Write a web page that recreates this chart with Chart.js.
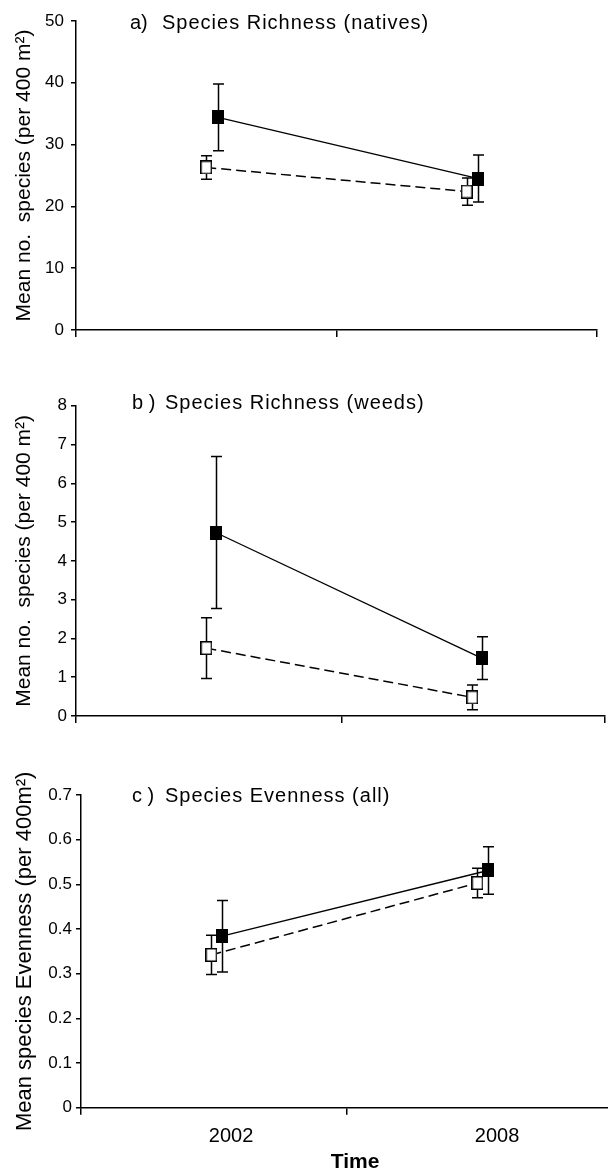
<!DOCTYPE html>
<html>
<head>
<meta charset="utf-8">
<script src="https://cdn.jsdelivr.net/npm/chart.js@4.4.1/dist/chart.umd.min.js"></script>
<style>
  html, body { margin: 0; padding: 0; background: #fff; overflow: hidden; }
  .panel { position: absolute; left: 0; width: 608px; }
</style>
</head>
<body>
<div class="panel" style="top:0px;height:360px"><canvas id="chartA" width="608" height="360"></canvas></div>
<div class="panel" style="top:365px;height:370px"><canvas id="chartB" width="608" height="370"></canvas></div>
<div class="panel" style="top:740px;height:431px"><canvas id="chartC" width="608" height="431"></canvas></div>
<script>
// data
const categories = ["2002", "2008"];

// a) species richness, natives
const nativesFilled = [34.4, 24.5];
const nativesFilledErr = [5.4, 3.8];
const nativesOpen = [26.3, 22.4];
const nativesOpenErr = [1.9, 2.2];
const nativesTicks = [0, 10, 20, 30, 40, 50];

// b) species richness, weeds
const weedsFilled = [4.73, 1.49];
const weedsFilledErr = [1.96, 0.55];
const weedsOpen = [1.75, 0.48];
const weedsOpenErr = [0.78, 0.32];
const weedsTicks = [0, 1, 2, 3, 4, 5, 6, 7, 8];

// c) species evenness, all
const evenFilled = [0.384, 0.531];
const evenFilledErr = [0.08, 0.053];
const evenOpen = [0.342, 0.503];
const evenOpenErr = [0.044, 0.033];
const evenTicks = [0, 0.1, 0.2, 0.3, 0.4, 0.5, 0.6, 0.7];

Chart.defaults.font.family = "'Liberation Sans', Arial, sans-serif";
Chart.defaults.color = "#000";
Chart.defaults.animation = false;

// rectangular markers (slightly taller than wide, like the original)
function markerImage(filled) {
  const c = document.createElement("canvas");
  c.width = 12; c.height = 14;
  const g = c.getContext("2d");
  g.fillStyle = filled ? "#000" : "#fff";
  g.fillRect(0.75, 0.75, 10.5, 12.5);
  g.strokeStyle = "#000";
  g.lineWidth = 1.5;
  g.strokeRect(0.75, 0.75, 10.5, 12.5);
  return c;
}
const filledMarker = markerImage(true);
const openMarker = markerImage(false);

// vertical error bars with caps, drawn under the lines/markers
const errorBars = {
  id: "errorBars",
  beforeDatasetsDraw(chart) {
    const { ctx, scales: { x, y } } = chart;
    const cap = 5.5;
    ctx.save();
    ctx.strokeStyle = "#000";
    ctx.lineWidth = 1.5;
    chart.data.datasets.forEach(ds => {
      if (!ds.errors) return;
      ds.data.forEach((pt, j) => {
        const e = ds.errors[j];
        const px = Math.round(x.getPixelForValue(pt.x)) + 0.5;
        const top = y.getPixelForValue(pt.y + e);
        const bot = y.getPixelForValue(pt.y - e);
        ctx.beginPath();
        ctx.moveTo(px, top); ctx.lineTo(px, bot);
        ctx.moveTo(px - cap, top); ctx.lineTo(px + cap, top);
        ctx.moveTo(px - cap, bot); ctx.lineTo(px + cap, bot);
        ctx.stroke();
      });
    });
    ctx.restore();
  }
};

// free text: panel captions and the "Time" label
const panelText = {
  id: "panelText",
  afterDraw(chart, args, opts) {
    const { ctx } = chart;
    (opts.items || []).forEach(it => {
      ctx.save();
      ctx.font = it.font;
      ctx.fillStyle = "#000";
      ctx.textBaseline = "middle";
      ctx.textAlign = it.align || "left";
      if ("letterSpacing" in ctx) ctx.letterSpacing = it.spacing || "0px";
      ctx.fillText(it.text, it.x, it.y);
      ctx.restore();
    });
  }
};

function buildPanel(cfg) {
  const W = 608;
  const toPoints = (vals, shift) => vals.map((v, i) => ({ x: i + 0.5 + shift, y: v }));

  // tick marks (no label) + category labels (no tick mark)
  const xTicks = cfg.tickMarks.map(v => ({ value: v, lab: "" }));
  if (cfg.showLabels) {
    categories.forEach((c, i) => xTicks.push({ value: i + 0.5 + cfg.labelShift, lab: c }));
  }
  xTicks.sort((a, b) => a.value - b.value);

  return new Chart(document.getElementById(cfg.id), {
    type: "line",
    data: {
      datasets: [
        {
          label: "filled",
          data: toPoints(cfg.filled, cfg.filledShift),
          errors: cfg.filledErr,
          borderColor: "#000",
          borderWidth: 1.3,
          pointStyle: filledMarker,
          pointRadius: 6,
          fill: false,
          tension: 0
        },
        {
          label: "open",
          data: toPoints(cfg.open, cfg.openShift),
          errors: cfg.openErr,
          borderColor: "#000",
          borderWidth: 1.5,
          borderDash: [10, 5],
          pointStyle: openMarker,
          pointRadius: 6,
          fill: false,
          tension: 0
        }
      ]
    },
    options: {
      responsive: false,
      animation: false,
      layout: {
        autoPadding: false,
        padding: { top: cfg.area.top, right: W - cfg.area.right, left: 0, bottom: 0 }
      },
      plugins: {
        legend: { display: false },
        tooltip: { enabled: false },
        panelText: { items: cfg.texts }
      },
      scales: {
        x: {
          type: "linear",
          min: 0,
          max: cfg.xMax,
          afterBuildTicks: s => { s.ticks = xTicks; },
          ticks: {
            autoSkip: false,
            maxRotation: 0,
            padding: 10,
            font: { size: 20 },
            callback: (v, i, ticks) => ticks[i].lab || ""
          },
          grid: {
            drawOnChartArea: false,
            tickLength: 7,
            lineWidth: 1.5,
            color: "#000",
            tickColor: c => (c.tick && c.tick.lab) ? "rgba(0,0,0,0)" : "#000"
          },
          border: { color: "#000", width: 1.5 },
          afterFit: s => {
            s.height = cfg.xHeight;
            s.paddingLeft = 0;
            s.paddingRight = 0;
          }
        },
        y: {
          min: cfg.yTicks[0],
          max: cfg.yTicks[cfg.yTicks.length - 1],
          afterBuildTicks: s => { s.ticks = cfg.yTicks.map(v => ({ value: v })); },
          ticks: { padding: cfg.yPad, font: { size: 17 }, callback: v => String(v) },
          grid: { drawOnChartArea: false, tickLength: 5, lineWidth: 1.5, color: "#000" },
          border: { color: "#000", width: 1.5 },
          title: {
            display: true,
            text: cfg.yTitle,
            font: { size: cfg.yTitleSize },
            padding: { top: cfg.yTitlePad, bottom: 0 }
          },
          afterFit: s => { s.width = cfg.area.left; }
        }
      }
    },
    plugins: [errorBars, panelText]
  });
}

const captionFont = "20px 'Liberation Sans', Arial, sans-serif";

// a) natives
buildPanel({
  id: "chartA",
  area: { left: 76, top: 21, right: 597 },
  xHeight: 30,
  xMax: 2,
  tickMarks: [0, 1, 2],
  showLabels: false,
  filled: nativesFilled, filledErr: nativesFilledErr, filledShift: 0.045,
  open: nativesOpen, openErr: nativesOpenErr, openShift: 0,
  yTicks: nativesTicks,
  yPad: 7,
  yTitle: "Mean no.  species (per 400 m²)",
  yTitleSize: 21,
  yTitlePad: 12,
  texts: [
    { text: "a)", x: 130, y: 23, font: captionFont },
    { text: "Species Richness (natives)", x: 162, y: 23, font: captionFont, spacing: "1px" }
  ]
});

// b) weeds
buildPanel({
  id: "chartB",
  area: { left: 76, top: 40.7, right: 605 },
  xHeight: 19,
  xMax: 1.989,
  tickMarks: [0, 1, 1.989],
  showLabels: false,
  filled: weedsFilled, filledErr: weedsFilledErr, filledShift: 0.025,
  open: weedsOpen, openErr: weedsOpenErr, openShift: -0.01,
  yTicks: weedsTicks,
  yPad: 4,
  yTitle: "Mean no.  species (per 400 m²)",
  yTitleSize: 21,
  yTitlePad: 12,
  texts: [
    { text: "b )", x: 132, y: 38, font: captionFont },
    { text: "Species Richness (weeds)", x: 165, y: 38, font: captionFont, spacing: "1px" }
  ]
});

// c) evenness
buildPanel({
  id: "chartC",
  area: { left: 81, top: 55, right: 608 },
  xHeight: 63.3,
  xMax: 1.981,
  tickMarks: [0, 1],
  showLabels: true,
  labelShift: 0.064,
  filled: evenFilled, filledErr: evenFilledErr, filledShift: 0.03,
  open: evenOpen, openErr: evenOpenErr, openShift: -0.01,
  yTicks: evenTicks,
  yPad: 4,
  yTitle: "Mean species Evenness (per 400m²)",
  yTitleSize: 22,
  yTitlePad: 12,
  texts: [
    { text: "c )", x: 132, y: 56, font: captionFont },
    { text: "Species Evenness (all)", x: 165, y: 56, font: captionFont, spacing: "1px" },
    { text: "Time", x: 355, y: 422, align: "center", font: "bold 21px 'Liberation Sans', Arial, sans-serif" }
  ]
});
</script>
</body>
</html>
